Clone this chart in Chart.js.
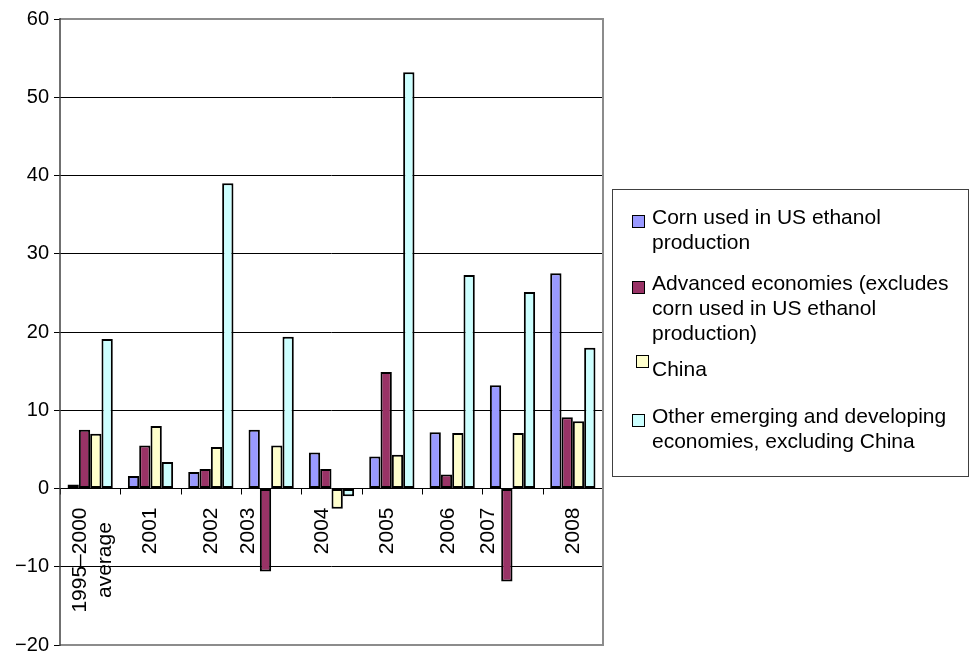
<!DOCTYPE html>
<html>
<head>
<meta charset="utf-8">
<script src="https://cdn.jsdelivr.net/npm/chart.js@4/dist/chart.umd.min.js"></script>
<style>
  html, body { margin: 0; padding: 0; background: #fff; }
  #wrap { width: 969px; height: 655px; }
</style>
</head>
<body>
<div id="wrap"><canvas id="barChart" width="969" height="655"></canvas></div>
<script>
// categories and values (percent)
const categories = [['1995\u20132000', 'average'], '2001', '2002', '2003', '2004', '2005', '2006', '2007', '2008'];
const cornEthanol = [0.5, 1.6, 2.1, 7.5, 4.6, 4.1, 7.2, 13.2, 27.5];
const advancedEcon = [7.5, 5.5, 2.5, -10.6, 2.5, 14.9, 1.8, -11.9, 9.1];
const china = [7.0, 8.0, 5.3, 5.5, -2.6, 4.3, 7.1, 7.1, 8.6];
const otherEmerging = [19.1, 3.4, 39.0, 19.4, -1.0, 53.2, 27.3, 25.1, 18.0];
const seriesNames = [
  ['Corn used in US ethanol', 'production'],
  ['Advanced economies (excludes', 'corn used in US ethanol', 'production)'],
  ['China'],
  ['Other emerging and developing', 'economies, excluding China']
];
const yMin = -20, yMax = 60, yStep = 10;

const FONT = '"Liberation Sans", Arial, sans-serif';
const colors = ['#9999FF', '#993366', '#FFFFCC', '#CCFFFF'];
const labelShift = [3, 0, 0, -23, -9, -5, -4, -24, 0];

// category labels under the zero line + small tick marks
const catLabels = {
  id: 'catLabels',
  afterDatasetsDraw(chart) {
    const ctx = chart.ctx;
    const xs = chart.scales.x, ys = chart.scales.y;
    const zeroY = ys.getPixelForValue(0);
    const step = xs.getPixelForValue(1) - xs.getPixelForValue(0);
    ctx.save();
    ctx.strokeStyle = '#000';
    ctx.lineWidth = 1;
    for (let i = 0; i <= categories.length; i++) {
      const bx = Math.round(xs.getPixelForValue(0) - step / 2 + i * step) + 0.5;
      ctx.beginPath();
      ctx.moveTo(bx, zeroY);
      ctx.lineTo(bx, zeroY + 6);
      ctx.stroke();
    }
    ctx.font = '21px ' + FONT;
    ctx.fillStyle = '#000';
    ctx.textBaseline = 'middle';
    ctx.textAlign = 'center';
    categories.forEach((lab, i) => {
      const lines = Array.isArray(lab) ? lab : [lab];
      const w = Math.max(...lines.map(l => ctx.measureText(l).width));
      const cx = xs.getPixelForValue(i) + labelShift[i];
      const top = zeroY + 19;
      const lh = 25;
      lines.forEach((l, j) => {
        const x = cx + (j - (lines.length - 1) / 2) * lh;
        ctx.save();
        ctx.translate(x, top + w / 2);
        ctx.rotate(-Math.PI / 2);
        ctx.fillText(l, 0, 0);
        ctx.restore();
      });
    });
    // plot frame (top, right, bottom) in grey
    const a = chart.chartArea;
    ctx.strokeStyle = '#8c8c8c';
    ctx.lineWidth = 2;
    ctx.beginPath();
    ctx.moveTo(a.left, a.top);
    ctx.lineTo(a.right, a.top);
    ctx.lineTo(a.right, a.bottom);
    ctx.lineTo(a.left, a.bottom);
    ctx.stroke();
    ctx.strokeStyle = '#404040';
    ctx.lineWidth = 1.5;
    ctx.beginPath();
    ctx.moveTo(a.left, a.top - 1);
    ctx.lineTo(a.left, a.bottom + 1);
    ctx.stroke();
    ctx.restore();
  }
};

// boxed legend on the right
const boxLegend = {
  id: 'boxLegend',
  afterDraw(chart) {
    const ctx = chart.ctx;
    ctx.save();
    ctx.strokeStyle = '#404040';
    ctx.lineWidth = 1;
    ctx.strokeRect(612.5, 189.5, 356, 287);
    ctx.font = '21px ' + FONT;
    ctx.textBaseline = 'middle';
    ctx.textAlign = 'left';
    const itemY = [218, 284, 370, 417];
    const markOff = [[0, 3], [0, 3], [4, -9], [0, 3]];
    chart.data.datasets.forEach((ds, i) => {
      const mx = 632 + markOff[i][0], my = itemY[i] - 6 + markOff[i][1];
      ctx.fillStyle = ds.backgroundColor;
      ctx.fillRect(mx, my, 12, 12);
      ctx.strokeStyle = '#000';
      ctx.strokeRect(mx + 0.5, my + 0.5, 12, 12);
      ctx.fillStyle = '#000';
      seriesNames[i].forEach((l, j) => {
        ctx.fillText(l, 652, itemY[i] + j * 25);
      });
    });
    ctx.restore();
  }
};

const ctx = document.getElementById('barChart').getContext('2d');
const data = {
  labels: categories,
  datasets: [cornEthanol, advancedEcon, china, otherEmerging].map((vals, i) => ({
    label: seriesNames[i].join(' '),
    data: vals,
    backgroundColor: colors[i],
    borderColor: '#000',
    borderWidth: 2,
    borderSkipped: false,
    categoryPercentage: 0.75,
    barPercentage: 1.0
  }))
};

new Chart(ctx, {
  type: 'bar',
  data: data,
  plugins: [catLabels, boxLegend],
  options: {
    responsive: false,
    animation: false,
    devicePixelRatio: 1,
    layout: { padding: { top: 19, right: 366, bottom: 10, left: 0 } },
    plugins: { legend: { display: false }, tooltip: { enabled: false } },
    scales: {
      x: { display: false },
      y: {
        min: yMin,
        max: yMax,
        afterFit(scale) {
          scale.width = 60;
          scale.paddingTop = 0;
          scale.paddingBottom = 0;
        },
        ticks: {
          stepSize: yStep,
          color: '#000',
          padding: 5,
          font: { family: FONT, size: 20 },
          callback: v => String(v).replace('-', '\u2212')
        },
        grid: {
          color: '#000',
          lineWidth: 1,
          tickLength: 6,
          tickColor: '#000'
        },
        border: { display: false }
      }
    }
  }
});
</script>
</body>
</html>
